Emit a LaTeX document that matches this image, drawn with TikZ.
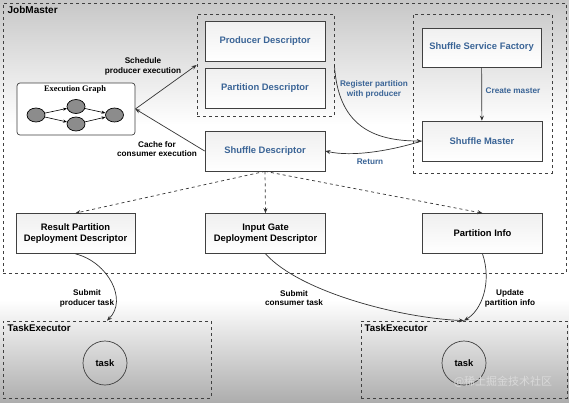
\documentclass[tikz,border=0pt]{standalone}
\usepackage{fontspec}
\setmainfont{Liberation Sans}
\newfontfamily\graphfont{Liberation Serif}
\newfontfamily\cjkfont{Noto Sans CJK SC}
\usetikzlibrary{positioning,arrows.meta,shapes.geometric}

\definecolor{descblue}{RGB}{58,100,150}
\definecolor{vertexgray}{RGB}{140,140,140}

\begin{document}
\begin{tikzpicture}[x=1pt,y=-1pt,>={Stealth[length=5pt,width=4pt]},
  line width=0.7pt,
  desc box/.style={draw=black!75,minimum width=120pt,minimum height=40pt,align=center,
    font=\fontsize{9.4}{11.5}\selectfont\bfseries,top color=black!6,bottom color=white},
  group box/.style={draw=black!75,dashed,line width=0.8pt,minimum width=#1},
  flow label/.style={font=\fontsize{8.2}{9.8}\selectfont\bfseries,align=center},
  vertex/.style={ellipse,draw,fill=vertexgray,minimum width=18pt,minimum height=14pt,inner sep=0pt},
  task node/.style={circle,draw=black!75,minimum size=44pt,font=\fontsize{9.4}{11}\selectfont\bfseries}]

  % background
  \useasboundingbox (0,0) rectangle (569,402);
  \fill[white] (0,0) rectangle (569,402);
  \shade[top color=black!22,bottom color=white] (0,0) rectangle (569,125);
  \shade[top color=white,bottom color=black!32] (0,300) rectangle (569,402);

  % outer groups
  \node[group box=563pt,minimum height=270pt] (jobmaster) at (284.5,138) {};
  \node[anchor=west,font=\fontsize{10}{11}\selectfont\bfseries] at (4,10) {JobMaster};
  \node[group box=137pt,minimum height=102pt] (prodgroup) at (265.5,65) {};
  \node[group box=139pt,minimum height=159pt] (mastergroup) at (482.5,93.5) {};

  \node[group box=208pt,minimum height=77pt] (taskexec1) at (107,359.5) {};
  \node[anchor=west,font=\fontsize{9.7}{11}\selectfont\bfseries] at (4,328) {TaskExecutor};
  \node[group box=206pt,minimum height=77pt] (taskexec2) at (464,359.5) {};
  \node[anchor=west,font=\fontsize{9.7}{11}\selectfont\bfseries] at (361,328) {TaskExecutor};

  % descriptors
  \node[desc box,text=descblue] (producer) at (265,41) {Producer Descriptor};
  \node[desc box,text=descblue] (partition) at (265,88.5) {Partition Descriptor};
  \node[desc box,text=descblue] (shuffledesc) at (265,151) {Shuffle Descriptor};
  \node[desc box,text=descblue,minimum width=119pt,minimum height=39pt] (factory) at (481.5,47.5) {Shuffle Service Factory};
  \node[desc box,text=descblue] (shufflemaster) at (482,141) {Shuffle Master};

  \node[desc box,minimum width=119pt] (resultpart) at (75.5,233.5) {Result Partition\\Deployment Descriptor};
  \node[desc box] (inputgate) at (265.5,233.5) {Input Gate\\Deployment Descriptor};
  \node[desc box] (partinfo) at (482.5,233.5) {Partition Info};

  % execution graph
  \node[draw=black!75,rounded corners=3pt,minimum width=118pt,minimum height=52pt,fill=white] (execgraph) at (76,109) {};
  \node[font=\graphfont\fontsize{8.4}{10}\selectfont\bfseries] at (75,89) {Execution Graph};
  \node[vertex] (v1) at (36,115) {};
  \node[vertex] (v2) at (76,106.5) {};
  \node[vertex] (v3) at (76,124) {};
  \node[vertex] (v4) at (114.5,115) {};
  \draw[->,line width=0.6pt,>={Stealth[length=4pt,width=3pt]}]
    (v1) edge (v2) (v1) edge (v3) (v2) edge (v4) (v3) edge (v4);

  % job master flows
  \draw[->,black!80] (execgraph.east) -- (prodgroup.west);
  \node[flow label] at (143,66) {Schedule\\producer execution};
  \draw[->,black!80] (shuffledesc.west) -- (execgraph.east);
  \node[flow label] at (157,149) {Cache for\\consumer execution};

  \draw[->,black!80] (prodgroup.east) .. controls (338,125) and (372,141) .. (shufflemaster.west);
  \node[flow label,text=descblue] at (374,89.5) {Register partition\\with producer};
  \draw[->,black!80] (shufflemaster.west) .. controls (390,151) and (352,157) .. (shuffledesc.east);
  \node[flow label,text=descblue] at (370,162) {Return};
  \draw[->,black!80] (factory) -- (shufflemaster);
  \node[flow label,text=descblue] at (513,91) {Create master};

  \draw[->,dashed,black!80] (shuffledesc.south) -- (resultpart.north);
  \draw[->,dashed,black!80] (shuffledesc.south) -- (inputgate.north);
  \draw[->,dashed,black!80] (shuffledesc.south) -- (partinfo.north);

  % task submission
  \draw[->,black!80] (resultpart.south) .. controls (108,262) and (128,300) .. (taskexec1.north);
  \node[flow label] at (87,298) {Submit\\producer task};
  \draw[->,black!80] (inputgate.south) .. controls (300,292) and (400,318) .. (taskexec2.north);
  \node[flow label] at (294,298) {Submit\\consumer task};
  \draw[->,black!80] (partinfo.south) .. controls (492,282) and (482,310) .. (taskexec2.north);
  \node[flow label] at (510,298) {Update\\partition info};

  \node[task node] (task1) at (105,363) {task};
  \node[task node] (task2) at (464,363) {task};

  \node[text=white!85!black,font=\cjkfont\fontsize{11}{12}\selectfont] at (503,382) {@稀土掘金技术社区};
\end{tikzpicture}
\end{document}
